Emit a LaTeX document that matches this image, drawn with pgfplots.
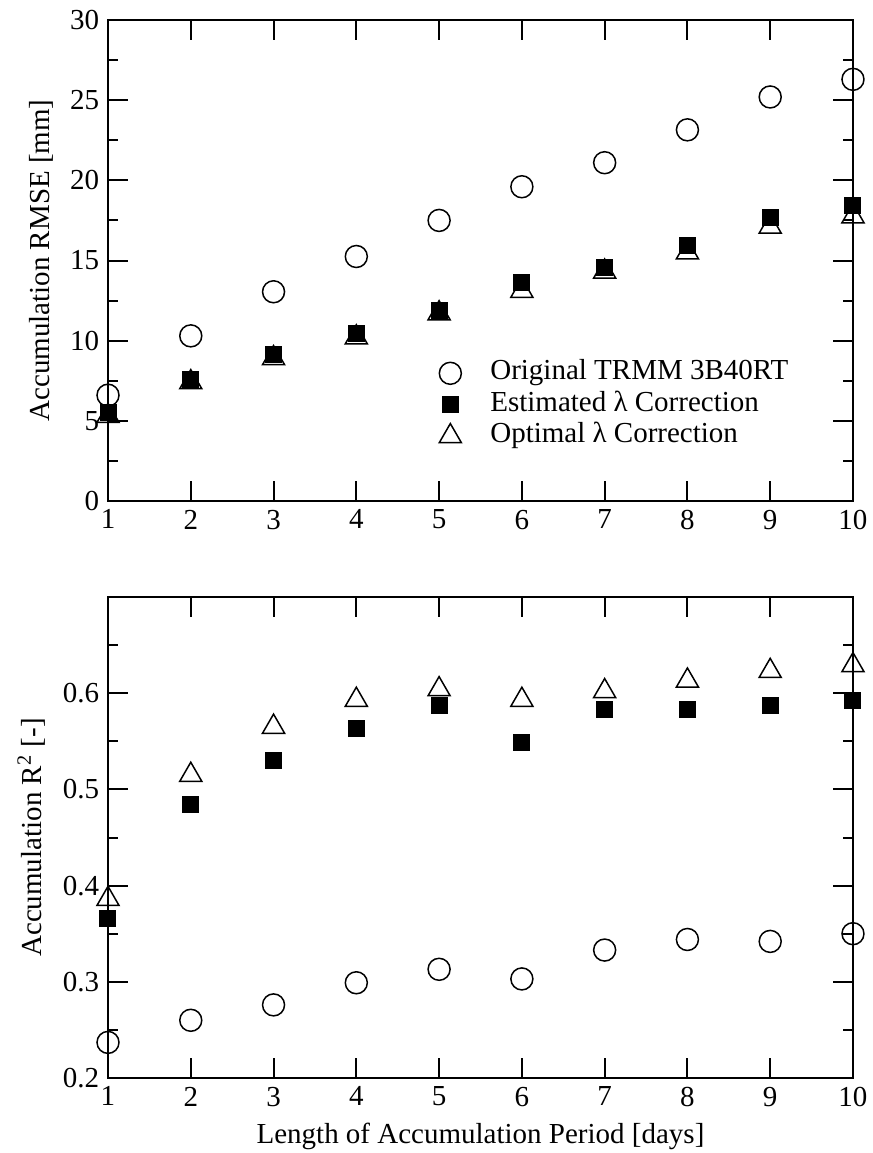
\documentclass[border=0pt]{standalone}
\usepackage{fontspec}
\setmainfont{Liberation Serif}
\usepackage{pgfplots}
\usepackage{pgfplotstable}
\pgfplotsset{compat=1.18}

% accumulation RMSE [mm]
\pgfplotstableread{
x  orig  est   opt
1  6.6   5.5   5.3
2  10.3  7.6   7.4
3  13.05 9.15  8.9
4  15.25 10.45 10.2
5  17.5  11.9  11.7
6  19.6  13.65 13.1
7  21.1  14.55 14.3
8  23.15 15.95 15.5
9  25.2  17.7  17.1
10 26.3  18.45 17.75
}\rmsedata

% accumulation R^2
\pgfplotstableread{
x  orig  est   opt
1  0.237 0.366 0.386
2  0.260 0.484 0.515
3  0.276 0.530 0.565
4  0.299 0.563 0.593
5  0.313 0.587 0.604
6  0.303 0.549 0.593
7  0.333 0.583 0.602
8  0.344 0.583 0.613
9  0.342 0.587 0.623
10 0.350 0.592 0.629
}\rsqdata

\newcommand{\figfont}{\fontsize{11.6}{13.5}\selectfont}

\pgfplotsset{
  panel/.style={
    scale only axis, width=298pt, height=192.4pt,
    xmin=1, xmax=10, xtick={1,...,10},
    tick align=inside, tick pos=both,
    major tick length=8pt, minor tick length=4pt,
    every tick/.style={black, line width=0.8pt},
    axis line style={line width=0.8pt},
    tick label style={font=\figfont},
    label style={font=\figfont},
    /pgf/number format/assume math mode=true,
    clip=false,
  },
  origmark/.style={only marks, mark=o, mark size=4.4pt, mark options={line width=0.6pt}},
  estmark/.style={only marks, mark=square*, mark size=3.2pt},
  optmark/.style={only marks, mark=triangle, mark size=5.1pt, mark options={line width=0.6pt}},
}

\begin{document}
\begin{tikzpicture}
\path[use as bounding box] (-43.2pt,-260.8pt) rectangle (305.6pt,200.4pt);

\begin{axis}[panel,
    at={(0pt,0pt)}, anchor=south west,
    ymin=0, ymax=30, ytick={0,5,...,30}, minor y tick num=1,
    ylabel={Accumulation RMSE [mm]},
    legend cell align=left,
    legend image code/.code={\path[draw=none,fill=none] (-5pt,0pt) -- (14pt,0pt); \draw[#1] plot coordinates {(0pt,0pt)};},
    legend style={draw=none, fill=none, font=\figfont, at={(0.432,0.2)}, anchor=west,
      row sep=0pt, nodes={inner ysep=1.3pt, text height=0.75em, text depth=0.25em}},
  ]
  \addplot[origmark] table[x=x, y=orig] {\rmsedata};
  \addlegendentry{Original TRMM 3B40RT}
  \addplot[optmark, forget plot] table[x=x, y=opt] {\rmsedata};
  \addplot[estmark] table[x=x, y=est] {\rmsedata};
  \addlegendentry{Estimated λ Correction}
  \addlegendimage{optmark}
  \addlegendentry{Optimal λ Correction}
\end{axis}

\begin{axis}[panel,
    at={(0pt,-230.8pt)}, anchor=south west,
    ymin=0.2, ymax=0.7, ytick={0.2,0.3,...,0.6},
    minor ytick={0.25,0.35,...,0.65},
    yticklabel style={/pgf/number format/.cd, fixed, fixed zerofill, precision=1},
    ylabel={Accumulation R\textsuperscript{2} [-]},
    xlabel={Length of Accumulation Period [days]},
  ]
  \addplot[origmark] table[x=x, y=orig] {\rsqdata};
  \addplot[optmark] table[x=x, y=opt] {\rsqdata};
  \addplot[estmark] table[x=x, y=est] {\rsqdata};
\end{axis}
\end{tikzpicture}
\end{document}
